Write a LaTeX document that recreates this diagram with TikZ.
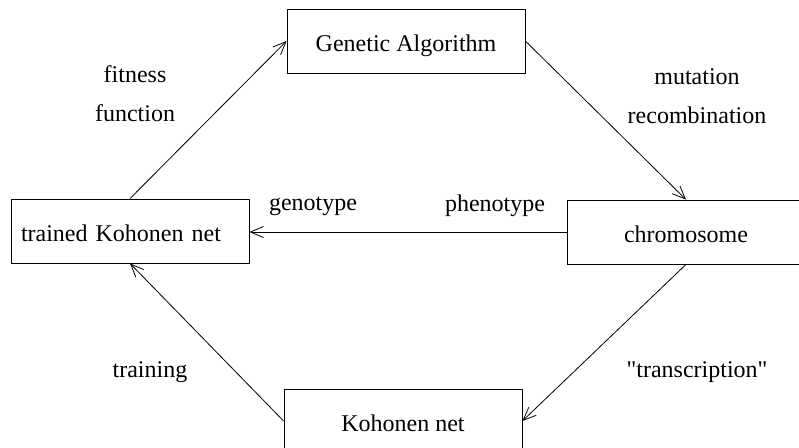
\documentclass[tikz,border=0pt]{standalone}
\usepackage{fontspec}
\setmainfont{Liberation Serif}[Ligatures=TeXOff]
\usetikzlibrary{arrows.meta}

\begin{document}
\begin{tikzpicture}[
  x=1pt, y=-1pt,
  font=\fontsize{24}{39}\selectfont,
  box/.style={draw, line width=0.8pt, minimum width=238pt, inner sep=0pt, text height=42pt, text depth=22pt},
  flow/.style={-{Straight Barb[length=13pt, width=11pt]}, line width=0.8pt}
]
\useasboundingbox (0,0) rectangle (799,447);
\clip (0,0) rectangle (799,447);

\node[box] (ga) at (406,41) {Genetic Algorithm};
\node[box, text width=218pt, align=left, inner xsep=10pt] (tk) at (130,231) {trained Kohonen net};
\node[box] (ch) at (686,232) {chromosome};
\node[box] (kn) at (403,421) {Kohonen net};

\draw[flow] (tk.north) -- (ga.west);
\draw[flow] (ga.east) -- (ch.north);
\draw[flow] (ch.west) -- (ch.west -| tk.east);
\draw[flow] (ch.south) -- (kn.east);
\draw[flow] (kn.west) -- (tk.south);

\node[align=center] (fit) at (135,94) {fitness\\function};
\node[align=center] (mut) at (697,96) {mutation\\recombination};
\node (geno) at (313,206) {genotype};
\node (pheno) at (495,206) {phenotype};
\node (train) at (150,372) {training};
\node (trans) at (697,372) {"transcription"};
\end{tikzpicture}
\end{document}
